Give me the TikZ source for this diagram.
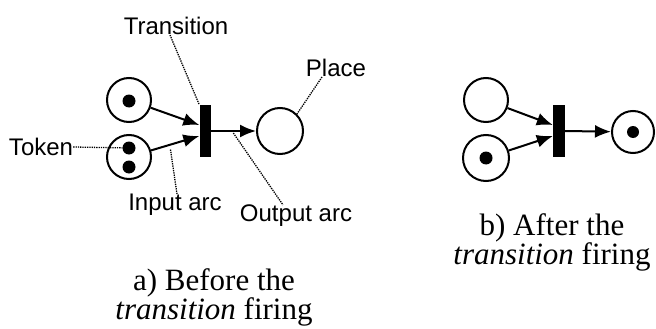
\documentclass[tikz,border=0pt]{standalone}
\usepackage{fontspec}
\setmainfont{Liberation Serif}
\newfontfamily\arialfont{Liberation Sans}
\usepackage{tikz}
\usetikzlibrary{arrows.meta}

\begin{document}
\begin{tikzpicture}[x=1pt,y=-1pt,
    place/.style={circle,draw,line width=2pt,minimum size=44pt,inner sep=0pt},
    token/.style={circle,fill,minimum size=13pt,inner sep=0pt},
    trans/.style={rectangle,fill,minimum width=11pt,minimum height=52pt,inner sep=0pt},
    arc/.style={line width=2pt,-{Latex[length=16pt,width=13pt]}},
    pointer/.style={densely dotted,line width=1.3pt},
    tag/.style={font=\arialfont\fontsize{24}{28}\selectfont,inner sep=0pt},
    caption/.style={font=\fontsize{31}{29}\selectfont,align=center,inner sep=0pt}]
        % Frame
        \useasboundingbox (0,0) rectangle (656,329);
        % a) Places
        \node[place] (p1) at (129,100) {};
        \node[place] (p2) at (129,157) {};
        \node[place,minimum size=46pt] (p3) at (280,131) {};
        % a) Tokens
        \node[token] (tok1) at (129,101) {};
        \node[token] (tok2a) at (129,148) {};
        \node[token] (tok2b) at (129,167) {};
        % a) Transition
        \node[trans] (t1) at (205,131) {};
        % a) Arcs
        \draw[arc] (p1) -- ([yshift=6pt]t1.west);
        \draw[arc] (p2) -- coordinate[pos=0.4] (inarc) ([yshift=-5pt]t1.west);
        \draw[arc] (t1.east) -- coordinate[pos=0.5] (outarc) (p3);
        % a) Labels
        \node[tag] (lbltrans) at (176,26) {Transition};
        \node[tag] (lblplace) at (336,68) {Place};
        \node[tag] (lbltoken) at (41,147) {Token};
        \node[tag] (lblin) at (175,205) {Input arc};
        \node[tag] (lblout) at (296,216) {Output arc};
        \draw[pointer] ([xshift=-6pt]lbltrans.south) -- (t1.north west);
        \draw[pointer] ([xshift=-14pt]lblplace.south) -- (p3.north east);
        \draw[pointer] (lbltoken.east) -- (tok2a);
        \draw[pointer] ([xshift=2pt]lblin.north) -- ([yshift=-4pt]inarc);
        \draw[pointer] ([yshift=-2pt]outarc) -- ([xshift=-13pt]lblout.north);
        % b) Places
        \node[place] (q1) at (486,100) {};
        \node[place,minimum size=46pt] (q2) at (486,158) {};
        \node[place,minimum size=42pt] (q3) at (633,132) {};
        % b) Tokens
        \node[token] (tok4) at (486,158) {};
        \node[token,minimum size=12pt] (tok5) at (633,132) {};
        % b) Transition
        \node[trans,minimum width=12pt] (t2) at (559,131) {};
        % b) Arcs
        \draw[arc] (q1) -- ([yshift=6pt]t2.west);
        \draw[arc] (q2) -- ([yshift=-5pt]t2.west);
        \draw[arc] (t2.east) -- (q3);
        % Captions
        \node[caption] (capa) at (214,297) {a) Before the\\\textit{transition} firing};
        \node[caption] (capb) at (552,242) {b) After the\\\textit{transition} firing};
    \end{tikzpicture}
\end{document}
